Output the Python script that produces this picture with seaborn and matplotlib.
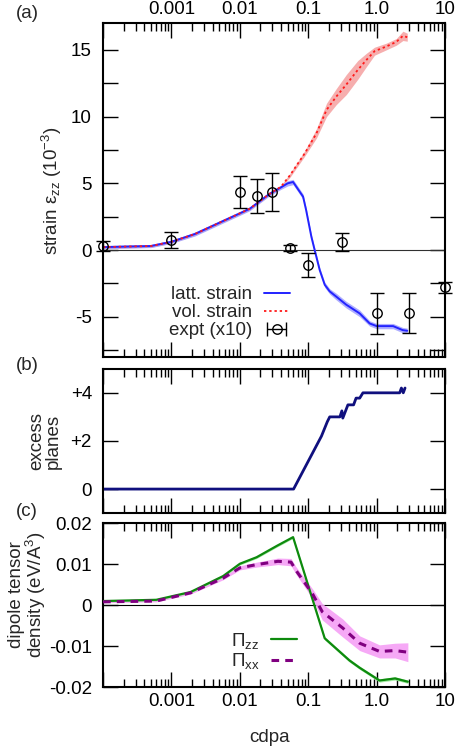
import numpy as np
import matplotlib
matplotlib.use('Agg')
import matplotlib.pyplot as plt
import matplotlib.ticker as mticker
import seaborn as sns

sns.set_style('ticks')
plt.rcParams['font.family'] = ['Liberation Sans', 'DejaVu Sans']
plt.rcParams['mathtext.fontset'] = 'custom'
plt.rcParams['mathtext.rm'] = 'Liberation Sans'
plt.rcParams['mathtext.it'] = 'Liberation Sans:italic'
plt.rcParams['axes.unicode_minus'] = False
FS = 13.5

#%% data
# (a) strain
latt_x = [1e-4, 5e-4, 1e-3, 2.2e-3, 4.8e-3, 1e-2, 1.4e-2, 2e-2, 2.7e-2, 4e-2, 0.05,
          0.06, 0.084, 0.093, 0.111, 0.124, 0.147, 0.174, 0.206, 0.258, 0.36, 0.4,
          0.565, 0.79, 1.0, 1.74, 2.4, 2.8]
latt_y = [0.22, 0.3, 0.62, 1.2, 2.0, 2.75, 3.1, 3.7, 4.2, 4.7, 5.0,
          5.1, 4.0, 3.0, 1.0, 0.0, -1.5, -2.6, -3.1, -3.5, -4.1, -4.25,
          -4.75, -5.5, -5.7, -5.7, -6.0, -6.05]
latt_err = [0.12, 0.12, 0.12, 0.15, 0.15, 0.15, 0.15, 0.15, 0.15, 0.15, 0.2,
            0.2, 0.2, 0.2, 0.2, 0.2, 0.2, 0.2, 0.2, 0.25, 0.25, 0.25,
            0.25, 0.2, 0.2, 0.2, 0.2, 0.2]

vol_x = [1e-4, 5e-4, 1e-3, 2.2e-3, 4.8e-3, 1e-2, 1.4e-2, 2e-2, 2.7e-2, 4e-2, 0.054,
         0.089, 0.132, 0.185, 0.257, 0.36, 0.53, 0.71, 0.93, 1.38, 1.94, 2.42, 2.8]
vol_y = [0.22, 0.3, 0.62, 1.2, 2.0, 2.75, 3.1, 3.7, 4.2, 4.75, 5.6,
         7.25, 8.75, 10.5, 11.5, 12.4, 13.5, 14.25, 14.9, 15.25, 15.6, 16.05, 15.95]
vol_err = [0.1, 0.1, 0.1, 0.1, 0.1, 0.1, 0.1, 0.1, 0.1, 0.1, 0.15,
           0.2, 0.35, 0.5, 0.6, 0.75, 0.7, 0.5, 0.3, 0.25, 0.25, 0.35, 0.3]

expt_x = [1e-4, 1e-3, 1e-2, 1.8e-2, 3e-2, 5.5e-2, 0.1, 0.31, 1.0, 3.0, 10.0]
expt_y = [0.3, 0.75, 4.35, 4.05, 4.35, 0.15, -1.1, 0.6, -4.75, -4.75, -2.8]
expt_err = [0.4, 0.6, 1.2, 1.25, 1.4, 0.2, 0.9, 0.7, 1.55, 1.5, 0.4]

# (b) excess planes
planes_x = [1e-4, 0.061, 0.156, 0.19, 0.206, 0.29, 0.31, 0.32, 0.38, 0.46, 0.5,
            0.565, 0.63, 2.17, 2.3, 2.45, 2.6]
planes_y = [0, 0, 2.2, 2.8, 3.0, 3.0, 3.25, 2.95, 3.5, 3.5, 3.78,
            3.78, 4.0, 4.0, 4.2, 4.0, 4.2]

# (c) dipole tensor density
pzz_x = [1e-4, 6e-4, 1.9e-3, 5.7e-3, 1e-2, 1.76e-2, 3.5e-2, 6e-2, 0.174, 0.4,
         0.565, 1.1, 1.86, 2.86]
pzz_y = [0.001, 0.0013, 0.0032, 0.0071, 0.0101, 0.0117, 0.0145, 0.0166, -0.0081,
         -0.0135, -0.0153, -0.0184, -0.0179, -0.0187]
pzz_err = [0.0002, 0.0002, 0.0002, 0.0003, 0.0003, 0.0003, 0.0003, 0.0003, 0.0004,
           0.0004, 0.0004, 0.0004, 0.0004, 0.0004]

pxx_x = [1e-4, 6e-4, 1.9e-3, 5.7e-3, 1e-2, 1.76e-2, 3.6e-2, 5.6e-2, 0.066, 0.115,
         0.16, 0.32, 0.565, 1.1, 1.86, 2.86]
pxx_y = [0.0008, 0.001, 0.003, 0.0066, 0.0091, 0.0099, 0.0107, 0.0105, 0.0085,
         0.0028, -0.0016, -0.0056, -0.0093, -0.0113, -0.0111, -0.0115]
pxx_err = [0.0002, 0.0002, 0.0003, 0.0004, 0.0005, 0.0006, 0.0008, 0.0009, 0.0009,
           0.0012, 0.002, 0.0022, 0.0018, 0.0016, 0.0018, 0.0023]

x_ticks = [1e-4, 1e-3, 1e-2, 1e-1, 1.0, 10.0]
x_ticklabels = ['', '0.001', '0.01', '0.1', '1.0', '10']
a_ticks = [-5, 0, 5, 10, 15]
a_ticklabels = ['-5', '0', '5', '10', '15']
b_ticks = [0, 2, 4]
b_ticklabels = ['0', '+2', '+4']
c_ticks = [-0.02, -0.01, 0, 0.01, 0.02]
c_ticklabels = ['-0.02', '-0.01', '0', '0.01', '0.02']


#%% axes styling
def style_axes(ax, top_labels=False, bottom_labels=False):
    ax.set_xscale('log')
    ax.set_xlim(1e-4, 10)
    ax.xaxis.set_major_locator(mticker.FixedLocator(x_ticks))
    ax.xaxis.set_major_formatter(mticker.FixedFormatter(x_ticklabels))
    ax.xaxis.set_minor_locator(mticker.LogLocator(base=10, subs=np.arange(2, 10), numticks=20))
    ax.xaxis.set_minor_formatter(mticker.NullFormatter())
    ax.tick_params(which='both', direction='in', top=True, right=True,
                   width=1, color='black', labelsize=FS, labelcolor='black')
    ax.tick_params(which='major', length=10.5)
    ax.tick_params(which='minor', length=5.5)
    ax.tick_params(axis='x', labeltop=top_labels, labelbottom=bottom_labels, pad=4)
    ax.tick_params(axis='y', pad=8)
    for sp in ax.spines.values():
        sp.set_linewidth(1.5)
        sp.set_color('black')
    ax.set_facecolor('white')
    ax.set_xlabel('')
    ax.set_ylabel('')


fig = plt.figure(figsize=(4.56, 7.48), dpi=100)
ax_a = fig.add_axes([0.226, 0.523, 0.750, 0.446])
ax_b = fig.add_axes([0.226, 0.314, 0.750, 0.193])
ax_c = fig.add_axes([0.226, 0.0815, 0.750, 0.219])

#%% (a)
ax_a.axhline(0, color='#303030', lw=0.8, zorder=1)
ax_a.fill_between(vol_x, np.array(vol_y) - vol_err, np.array(vol_y) + vol_err,
                  color='#f5a0a0', lw=0, alpha=0.85, zorder=2)
ax_a.fill_between(latt_x, np.array(latt_y) - latt_err, np.array(latt_y) + latt_err,
                  color='#9a9aff', lw=0, alpha=0.8, zorder=2)
sns.lineplot(x=latt_x, y=latt_y, ax=ax_a, color='#2323ff', lw=1.4,
             estimator=None, sort=False, label='latt. strain', zorder=3)
sns.lineplot(x=vol_x, y=vol_y, ax=ax_a, color='#ff1a1a', lw=1.3,
             linestyle=(0, (1.3, 1.6)), estimator=None, sort=False,
             label='vol. strain', zorder=4)
eb = ax_a.errorbar(expt_x, expt_y, yerr=expt_err, fmt='o', ms=6.8, mfc='none',
                   mec='black', mew=1, ecolor='black', elinewidth=1, capsize=5,
                   capthick=1, zorder=5)
for art in [eb[0], *eb[1], *eb[2]]:
    art.set_clip_on(False)
proxy = ax_a.errorbar([np.nan], [np.nan], xerr=[1.0], fmt='o', ms=6.8, mfc='none',
                      mec='black', mew=1, ecolor='black', elinewidth=1, capsize=5,
                      capthick=1, label='expt (x10)')
style_axes(ax_a, top_labels=True)
ax_a.set_ylim(-8, 17)
ax_a.yaxis.set_major_locator(mticker.FixedLocator(a_ticks))
ax_a.yaxis.set_major_formatter(mticker.FixedFormatter(a_ticklabels))
ax_a.yaxis.set_minor_locator(mticker.MultipleLocator(2.5))
ax_a.tick_params(axis='y', which='minor', length=10.5)
h, l = ax_a.get_legend_handles_labels()
ax_a.legend(h, l, loc='center', bbox_to_anchor=(0.37, 0.132), frameon=False,
            markerfirst=False, handlelength=1.4, handletextpad=0.6,
            labelspacing=0.05, borderpad=0, fontsize=FS)

#%% (b)
sns.lineplot(x=planes_x, y=planes_y, ax=ax_b, color='#10107e', lw=2.0,
             estimator=None, sort=False, legend=False)
style_axes(ax_b)
ax_b.set_ylim(-1, 5)
ax_b.yaxis.set_major_locator(mticker.FixedLocator(b_ticks))
ax_b.yaxis.set_major_formatter(mticker.FixedFormatter(b_ticklabels))

#%% (c)
ax_c.axhline(0, color='black', lw=0.8, zorder=1)
ax_c.fill_between(pxx_x, np.array(pxx_y) - pxx_err, np.array(pxx_y) + pxx_err,
                  color='#f5a0f5', lw=0, alpha=0.9, zorder=2)
ax_c.fill_between(pzz_x, np.array(pzz_y) - pzz_err, np.array(pzz_y) + pzz_err,
                  color='#98e898', lw=0, alpha=0.9, zorder=2)
sns.lineplot(x=pzz_x, y=pzz_y, ax=ax_c, color='#0d8a0d', lw=1.6,
             estimator=None, sort=False, label=r'$\Pi_{\mathrm{zz}}$', zorder=3)
sns.lineplot(x=pxx_x, y=pxx_y, ax=ax_c, color='#800080', lw=2.2,
             linestyle=(0, (2.5, 2)), estimator=None, sort=False,
             label=r'$\Pi_{\mathrm{xx}}$', zorder=4)
style_axes(ax_c, bottom_labels=True)
ax_c.set_ylim(-0.02, 0.02)
ax_c.yaxis.set_major_locator(mticker.FixedLocator(c_ticks))
ax_c.yaxis.set_major_formatter(mticker.FixedFormatter(c_ticklabels))
h, l = ax_c.get_legend_handles_labels()
ax_c.legend(h, l, loc='center', bbox_to_anchor=(0.47, 0.22), frameon=False,
            markerfirst=False, handlelength=1.4, handletextpad=0.6,
            labelspacing=0.05, borderpad=0, fontsize=FS)

#%% labels
fig.text(52 / 456, 1 - 191 / 748, 'strain ε$_{\\mathrm{zz}}$ (10$^{-3}$)',
         rotation=90, ha='center', va='center', fontsize=FS)
fig.text(45 / 456, 1 - 441 / 748, 'excess\nplanes', rotation=90, ha='center',
         va='center', multialignment='center', fontsize=FS, linespacing=0.95)
fig.text(28 / 456, 1 - 595 / 748, 'dipole tensor\ndensity (eV/A$^3$)', rotation=90,
         ha='center', va='center', multialignment='center', fontsize=FS,
         linespacing=0.95)
fig.text(270 / 456, 1 - 737 / 748, 'cdpa', ha='center', va='center', fontsize=FS)
for txt, yy in [('(a)', 13), ('(b)', 365), ('(c)', 512)]:
    fig.text(27 / 456, 1 - yy / 748, txt, ha='center', va='center', fontsize=FS)

fig.savefig('out.png', dpi=100, facecolor='white')
